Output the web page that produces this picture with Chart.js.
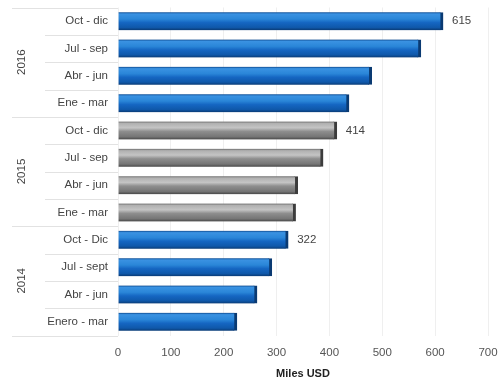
<!DOCTYPE html>
<html>
<head>
<meta charset="utf-8">
<script src="https://cdn.jsdelivr.net/npm/chart.js@4/dist/chart.umd.min.js"></script>
<style>
  html, body { margin: 0; padding: 0; background: #fff; }
  #wrap { width: 499px; height: 381px; }
</style>
</head>
<body>
<div id="wrap"><canvas id="bar-chart"></canvas></div>
<script>
// quarters, top to bottom
var quarters = ['Oct - dic', 'Jul - sep', 'Abr - jun', 'Ene - mar',
                'Oct - dic', 'Jul - sep', 'Abr - jun', 'Ene - mar',
                'Oct - Dic', 'Jul - sept', 'Abr - jun', 'Enero - mar'];
var ventas = [615, 573, 480, 437, 414, 388, 340, 336, 322, 291, 263, 225];
var years = ['2016', '2015', '2014'];
var rowsPerYear = 4;
var labelledRows = [0, 4, 8];
var xTicks = [0, 100, 200, 300, 400, 500, 600, 700];

var BAR_H = 18;

function isGray(i) { return Math.floor(i / rowsPerYear) === 1; }

function barFill(ctx) {
  var chart = ctx.chart;
  var y = chart.scales.y;
  if (!y || !chart.chartArea) return '#1566c2';
  var cy = y.getPixelForValue(ctx.dataIndex);
  var g = chart.ctx.createLinearGradient(0, cy - BAR_H / 2, 0, cy + BAR_H / 2);
  if (isGray(ctx.dataIndex)) {
    g.addColorStop(0, '#6a6a6a');
    g.addColorStop(0.1, '#b0b0b0');
    g.addColorStop(0.35, '#c4c4c4');
    g.addColorStop(0.55, '#8e8e8e');
    g.addColorStop(0.85, '#757575');
    g.addColorStop(1, '#474747');
  } else {
    g.addColorStop(0, '#0d4a90');
    g.addColorStop(0.1, '#3a92e2');
    g.addColorStop(0.38, '#2a86d8');
    g.addColorStop(0.58, '#1566c2');
    g.addColorStop(0.85, '#0f58aa');
    g.addColorStop(1, '#0a3b75');
  }
  return g;
}

// year labels, row separators and value labels
var decor = {
  id: 'decor',
  afterDraw: function (chart) {
    var c = chart.ctx, area = chart.chartArea, y = chart.scales.y, x = chart.scales.x;
    var band = (area.bottom - area.top) / quarters.length;
    c.save();
    c.strokeStyle = '#e2e2e2';
    c.lineWidth = 1;
    for (var k = 0; k <= quarters.length; k++) {
      var ly = Math.round(area.top + k * band) + 0.5;
      c.beginPath();
      c.moveTo(k % rowsPerYear === 0 ? 12 : 45, ly);
      c.lineTo(area.left, ly);
      c.stroke();
    }
    c.fillStyle = '#444';
    c.font = '11.5px "Liberation Sans", Arial, sans-serif';
    c.textAlign = 'center';
    c.textBaseline = 'middle';
    years.forEach(function (yr, g) {
      var cy = area.top + (g * rowsPerYear + rowsPerYear / 2) * band;
      c.save();
      c.translate(22, cy);
      c.rotate(-Math.PI / 2);
      c.fillText(yr, 0, 0);
      c.restore();
    });
    c.textAlign = 'left';
    labelledRows.forEach(function (i) {
      c.fillText(String(ventas[i]), x.getPixelForValue(ventas[i]) + 9, y.getPixelForValue(i));
    });
    c.restore();
  }
};

Chart.defaults.font.family = '"Liberation Sans", Arial, sans-serif';
Chart.defaults.font.size = 11.5;
Chart.defaults.color = '#444';

new Chart(document.getElementById('bar-chart'), {
  type: 'bar',
  data: {
    labels: quarters,
    datasets: [{
      data: ventas,
      backgroundColor: barFill,
      borderColor: function (ctx) { return isGray(ctx.dataIndex) ? '#3c3c3c' : '#0a3a72'; },
      borderWidth: { top: 0, right: 3, bottom: 0, left: 0 },
      borderSkipped: 'start',
      barThickness: BAR_H
    }]
  },
  options: {
    indexAxis: 'y',
    responsive: true,
    maintainAspectRatio: false,
    animation: false,
    layout: { padding: { top: 7.5, right: 11, bottom: 0, left: 0 } },
    plugins: {
      legend: { display: false },
      tooltip: { enabled: false }
    },
    scales: {
      x: {
        min: 0,
        max: 700,
        afterBuildTicks: function (s) { s.ticks = xTicks.map(function (v) { return { value: v }; }); },
        afterFit: function (s) { s.height = 45.5; s.paddingLeft = 0; s.paddingRight = 0; },
        grid: { color: '#efefef', drawTicks: false },
        border: { display: false },
        ticks: { padding: 10, color: '#555' },
        title: {
          display: true,
          text: 'Miles USD',
          color: '#222',
          font: { size: 11, weight: 'bold' },
          padding: { top: 0, bottom: 0 }
        }
      },
      y: {
        afterFit: function (s) { s.width = 118; s.paddingTop = 0; s.paddingBottom = 0; },
        grid: { display: false, drawTicks: false },
        border: { display: false },
        ticks: { padding: 10, color: '#444', autoSkip: false }
      }
    }
  },
  plugins: [decor]
});
</script>
</body>
</html>
